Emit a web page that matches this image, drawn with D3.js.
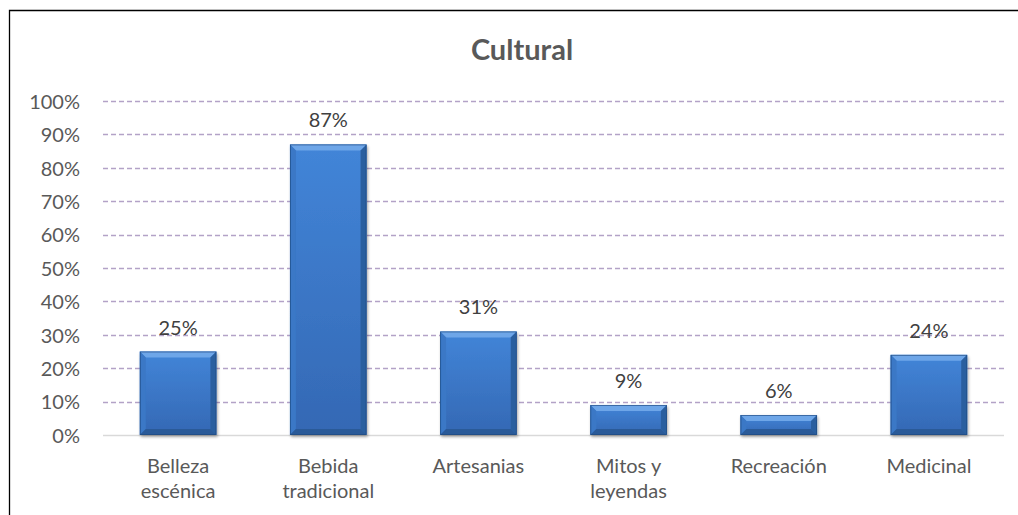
<!DOCTYPE html>
<html>
<head>
<meta charset="utf-8">
<script src="https://cdn.jsdelivr.net/npm/d3@7"></script>
<style>
  html, body { margin: 0; padding: 0; background: #fff; }
  svg { display: block; }
</style>
</head>
<body>
<script>
// Chart data
const categories = [["Belleza", "escénica"], ["Bebida", "tradicional"], ["Artesanias"], ["Mitos y", "leyendas"], ["Recreación"], ["Medicinal"]];
const values = [25, 87, 31, 9, 6, 24];
const yTicks = [0, 10, 20, 30, 40, 50, 60, 70, 80, 90, 100];
const title = "Cultural";

const W = 1018, H = 515;
const font = "Lato, 'Open Sans', sans-serif";
const textColor = "#595959";

const svg = d3.select("body").append("svg").attr("width", W).attr("height", H);

// frame (open on right and bottom)
svg.append("rect").attr("x", 0).attr("y", 0).attr("width", W).attr("height", H).attr("fill", "#fff");
svg.append("path").attr("d", `M9.5,${H} L9.5,10.5 L${W},10.5`)
  .attr("fill", "none").attr("stroke", "#000").attr("stroke-width", 1.3);

const plot = { left: 103, right: 1004, top: 101, bottom: 435 };

const x = d3.scaleBand().domain(d3.range(categories.length))
  .range([plot.left, plot.right]).paddingInner(0.49).paddingOuter(0.245);
const y = d3.scaleLinear().domain([0, 100]).range([plot.bottom, plot.top]);

// title
svg.append("text").attr("x", 522).attr("y", 60).attr("text-anchor", "middle")
  .attr("font-family", font).attr("font-weight", "bold").attr("font-size", 29)
  .attr("fill", textColor).text(title);

// gridlines
svg.append("g").selectAll("line").data(yTicks.filter(d => d > 0)).join("line")
  .attr("x1", plot.left).attr("x2", plot.right)
  .attr("y1", d => Math.round(y(d)) + 0.5).attr("y2", d => Math.round(y(d)) + 0.5)
  .attr("stroke", "#b3a2c7").attr("stroke-width", 1.3).attr("stroke-dasharray", "5,3");

// y axis labels
const yAxis = d3.axisLeft(y).tickValues(yTicks).tickFormat(d => d + "%").tickSize(0).tickPadding(0);
const gy = svg.append("g").attr("transform", `translate(80,0)`).call(yAxis);
gy.select(".domain").remove();
gy.selectAll("text").attr("font-family", font).attr("font-size", 20).attr("fill", textColor)
  .attr("dy", "0.36em");

// bar gradients
const defs = svg.append("defs");
const face = defs.append("linearGradient").attr("id", "face").attr("x1", 0).attr("x2", 0).attr("y1", 0).attr("y2", 1);
face.append("stop").attr("offset", "0%").attr("stop-color", "#4285d8");
face.append("stop").attr("offset", "100%").attr("stop-color", "#3468b4");
const shadow = defs.append("filter").attr("id", "shadow").attr("x", "-10%").attr("y", "-10%").attr("width", "130%").attr("height", "130%");
shadow.append("feGaussianBlur").attr("in", "SourceAlpha").attr("stdDeviation", 1.5);
shadow.append("feOffset").attr("dx", 1).attr("dy", 1.5).attr("result", "b");
shadow.append("feComponentTransfer").append("feFuncA").attr("type", "linear").attr("slope", 0.35);
const m = shadow.append("feMerge");
m.append("feMergeNode");
m.append("feMergeNode").attr("in", "SourceGraphic");

// baseline axis
svg.append("line").attr("x1", plot.left).attr("x2", plot.right)
  .attr("y1", plot.bottom + 0.5).attr("y2", plot.bottom + 0.5)
  .attr("stroke", "#d9d9d9").attr("stroke-width", 1.5);

// bevelled bars
const bev = 6;
const bars = svg.append("g").selectAll("g").data(values).join("g")
  .attr("filter", "url(#shadow)");
bars.each(function (v, i) {
  const g = d3.select(this);
  const x0 = x(i), x1 = x(i) + x.bandwidth();
  const y0 = y(v), y1 = y(0);
  const b = Math.min(bev, (y1 - y0) / 3);
  g.append("rect").attr("x", x0).attr("y", y0).attr("width", x1 - x0).attr("height", y1 - y0)
    .attr("fill", "url(#face)");
  // top bevel
  g.append("path").attr("d", `M${x0},${y0}L${x1},${y0}L${x1 - b},${y0 + b}L${x0 + b},${y0 + b}Z`)
    .attr("fill", "#6ea6e8");
  // left bevel
  g.append("path").attr("d", `M${x0},${y0}L${x0 + b},${y0 + b}L${x0 + b},${y1 - b}L${x0},${y1}Z`)
    .attr("fill", "#3a78c6");
  // right bevel
  g.append("path").attr("d", `M${x1},${y0}L${x1},${y1}L${x1 - b},${y1 - b}L${x1 - b},${y0 + b}Z`)
    .attr("fill", "#2c5f9f");
  // bottom bevel
  g.append("path").attr("d", `M${x0},${y1}L${x1},${y1}L${x1 - b},${y1 - b}L${x0 + b},${y1 - b}Z`)
    .attr("fill", "#2a5a98");
  g.append("rect").attr("x", x0 + 0.5).attr("y", y0 + 0.5).attr("width", x1 - x0 - 1).attr("height", y1 - y0 - 1)
    .attr("fill", "none").attr("stroke", "#1f4a80").attr("stroke-width", 0.8).attr("stroke-opacity", 0.8);
});

// value labels
svg.append("g").selectAll("text").data(values).join("text")
  .attr("x", (d, i) => x(i) + x.bandwidth() / 2)
  .attr("y", d => y(d) - 17)
  .attr("text-anchor", "middle").attr("font-family", font).attr("font-size", 20)
  .attr("fill", "#404040").text(d => d + "%");

// category labels
const cg = svg.append("g").selectAll("text").data(categories).join("text")
  .attr("x", (d, i) => x(i) + x.bandwidth() / 2)
  .attr("y", 473)
  .attr("text-anchor", "middle").attr("font-family", font).attr("font-size", 20)
  .attr("fill", textColor);
cg.selectAll("tspan").data(d => d).join("tspan")
  .attr("x", function () { return d3.select(this.parentNode).attr("x"); })
  .attr("dy", (d, j) => j === 0 ? 0 : 24.5)
  .text(d => d);
</script>
</body>
</html>
